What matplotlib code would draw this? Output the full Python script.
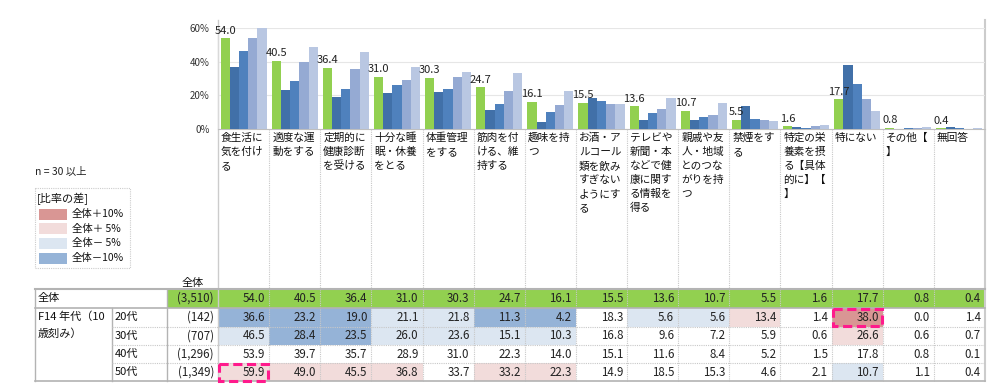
import matplotlib
matplotlib.use('Agg')
import matplotlib.pyplot as plt
from matplotlib.patches import Rectangle
import numpy as np

plt.rcParams['font.family'] = ['Noto Sans CJK JP', 'DejaVu Sans']

# ---- data ----
categories = [
    '食生活に\n気を付け\nる', '適度な運\n動をする', '定期的に\n健康診断\nを受ける',
    '十分な睡\n眠・休養\nをとる', '体重管理\nをする', '筋肉を付\nける、維\n持する',
    '趣味を持\nつ', 'お酒・ア\nルコール\n類を飲み\nすぎない\nようにす\nる',
    'テレビや\n新聞・本\nなどで健\n康に関す\nる情報を\n得る',
    '親戚や友\n人・地域\nとのつな\nがりを持\nつ', '禁煙をす\nる',
    '特定の栄\n養素を摂\nる【具体\n的に】【\n】', '特にない', 'その他【\n】', '無回答',
]
row_labels = ['全体', '20代', '30代', '40代', '50代']
n_labels = ['(3,510)', '(142)', '(707)', '(1,296)', '(1,349)']
total = [54.0, 40.5, 36.4, 31.0, 30.3, 24.7, 16.1, 15.5, 13.6, 10.7, 5.5, 1.6, 17.7, 0.8, 0.4]
age20 = [36.6, 23.2, 19.0, 21.1, 21.8, 11.3, 4.2, 18.3, 5.6, 5.6, 13.4, 1.4, 38.0, 0.0, 1.4]
age30 = [46.5, 28.4, 23.5, 26.0, 23.6, 15.1, 10.3, 16.8, 9.6, 7.2, 5.9, 0.6, 26.6, 0.6, 0.7]
age40 = [53.9, 39.7, 35.7, 28.9, 31.0, 22.3, 14.0, 15.1, 11.6, 8.4, 5.2, 1.5, 17.8, 0.8, 0.1]
age50 = [59.9, 49.0, 45.5, 36.8, 33.7, 33.2, 22.3, 14.9, 18.5, 15.3, 4.6, 2.1, 10.7, 1.1, 0.4]
highlight = [(4, 0), (1, 12)]   # (row, column) with dashed frame

series = [total, age20, age30, age40, age50]
bar_colors = ['#92d050', '#4170a8', '#4f81bd', '#95aad3', '#b9c7e2']

# difference colours
C_P10, C_P5, C_M5, C_M10 = '#d99694', '#f2dcdb', '#dce6f1', '#95b3d7'

def diff_color(v, base):
    d = round(v - base, 1)
    if d >= 10: return C_P10
    if d >= 5: return C_P5
    if d <= -10: return C_M10
    if d <= -5: return C_M5
    return None

W, H = 1004, 390
fig = plt.figure(figsize=(W / 100, H / 100), dpi=100)
fig.patch.set_facecolor('white')

# base canvas in pixel coords
base = fig.add_axes([0, 0, 1, 1])
base.set_xlim(0, W)
base.set_ylim(H, 0)
base.axis('off')

X0, X1 = 218, 985
ncol = len(categories)
cw = (X1 - X0) / ncol
col_x = [X0 + i * cw for i in range(ncol + 1)]

# ============ bar chart ============
ax = fig.add_axes([X0 / W, (H - 129) / H, (X1 - X0) / W, (129 - 28) / H])
x = np.arange(ncol)
bw = 0.18
for k, (vals, c) in enumerate(zip(series, bar_colors)):
    ax.bar(x + (k - 2) * bw, vals, width=bw, color=c, zorder=3)
for i, v in enumerate(total):
    ax.text(i - 2 * bw, v + 1.5, f'{v:.1f}', ha='center', va='bottom',
            fontsize=8, color='#222222', zorder=5, clip_on=False)
ax.set_xlim(-0.5, ncol - 0.5)
ax.set_ylim(0, 60)
ax.set_yticks([0, 20, 40, 60])
ax.set_yticklabels(['0%', '20%', '40%', '60%'], fontsize=7, color='#333333')
ax.tick_params(axis='y', length=0, pad=6)
ax.set_xticks([])
ax.grid(axis='y', color='#e6e6e6', lw=0.8, zorder=0)
for s in ['top', 'right']:
    ax.spines[s].set_visible(False)
ax.spines['left'].set_color('#d9d9d9')
ax.spines['bottom'].set_color('#bfbfbf')
ax.patch.set_alpha(0)

# ============ category labels ============
for i, lab in enumerate(categories):
    for j, line in enumerate(lab.split('\n')):
        base.text(col_x[i] + 3, 138 + j * 14, line, fontsize=7.7,
                  va='center', ha='left', color='#111111')

# ============ table ============
row_y = [289, 308, 326.5, 345, 363, 381]
grey = '#b3b3b3'
dot = '#c8c8c8'

# cell backgrounds
base.add_patch(Rectangle((167, row_y[0]), X1 - 167, row_y[1] - row_y[0],
                         facecolor='#92d050', edgecolor='none', zorder=1))
for r in range(1, 5):
    for i in range(ncol):
        c = diff_color(series[r][i], total[i])
        if c:
            base.add_patch(Rectangle((col_x[i], row_y[r]), cw, row_y[r + 1] - row_y[r],
                                     facecolor=c, edgecolor='none', zorder=1))

# vertical lines
for i in range(1, ncol):
    base.plot([col_x[i]] * 2, [129, row_y[-1]], color=dot, lw=0.8, ls=(0, (1, 1)), zorder=2)
base.plot([X0, X0], [20, row_y[-1]], color='#cccccc', lw=1, zorder=2)
base.plot([X1, X1], [20, row_y[-1]], color='#cccccc', lw=1.5, zorder=2)
base.plot([35, 35], [row_y[0], row_y[-1]], color=grey, lw=1, zorder=2)
base.plot([167, 167], [row_y[0], row_y[-1]], color=grey, lw=1, zorder=2)
base.plot([112, 112], [row_y[1], row_y[-1]], color=grey, lw=1, zorder=2)

# horizontal lines
base.plot([35, X1], [row_y[0]] * 2, color=grey, lw=1.5, zorder=2)
base.plot([35, X1], [row_y[1]] * 2, color=grey, lw=1.2, zorder=2)
for r in range(2, 5):
    base.plot([112, X1], [row_y[r]] * 2, color=dot, lw=0.8, ls=(0, (1, 1)), zorder=2)
base.plot([35, X1], [row_y[-1]] * 2, color=grey, lw=1.2, zorder=2)

# texts
base.text(193, 283, '全体', ha='center', va='center', fontsize=8, color='#111111')
base.text(38, row_y[0] + 9, '全体', ha='left', va='center', fontsize=8, color='#111111')
base.text(38, 317, 'F14 年代（10', ha='left', va='center', fontsize=8, color='#111111')
base.text(38, 334, '歳刻み）', ha='left', va='center', fontsize=8, color='#111111')
for r in range(5):
    yc = (row_y[r] + row_y[r + 1]) / 2
    if r > 0:
        base.text(115, yc, row_labels[r], ha='left', va='center', fontsize=8, color='#111111')
    base.text(214, yc, n_labels[r], ha='right', va='center', fontsize=8.3, color='#222222', zorder=4)
    for i in range(ncol):
        base.text(col_x[i + 1] - 4, yc, f'{series[r][i]:.1f}', ha='right', va='center',
                  fontsize=8.3, color='#222222', zorder=4)

for r, i in highlight:
    base.add_patch(Rectangle((col_x[i] + 1, row_y[r] + 0.5), cw - 2, row_y[r + 1] - row_y[r] - 1,
                             facecolor='none', edgecolor='#ff1a8c', lw=2.2,
                             ls=(0, (3, 1.5)), zorder=5))

# ============ left notes / legend ============
base.text(35, 172, 'n = 30 以上', ha='left', va='center', fontsize=7.5, color='#222222')
base.add_patch(Rectangle((35, 188), 95, 80, facecolor='white', edgecolor='#cccccc',
                         lw=0.8, ls=(0, (1, 1)), zorder=1))
base.text(37, 199, '[比率の差]', ha='left', va='center', fontsize=8, color='#111111')
leg = [(C_P10, '全体＋10%'), (C_P5, '全体＋ 5%'), (C_M5, '全体－ 5%'), (C_M10, '全体－10%')]
for k, (c, t) in enumerate(leg):
    yc = 214 + k * 14.7
    base.add_patch(Rectangle((39, yc - 5.5), 28, 11, facecolor=c, edgecolor='none', zorder=2))
    base.text(72, yc, t, ha='left', va='center', fontsize=7.5, color='#111111')

plt.savefig('out.png', dpi=100, facecolor='white')
plt.close()
